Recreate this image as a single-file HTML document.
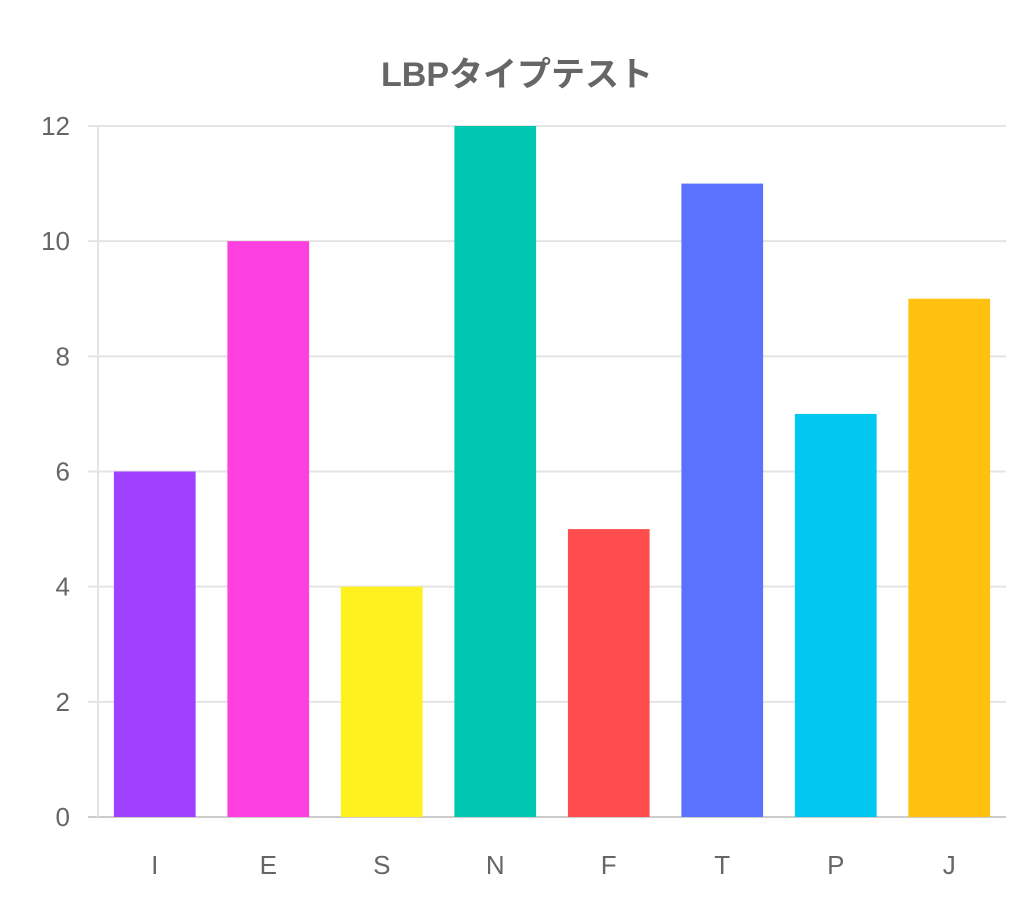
<!DOCTYPE html>
<html><head><meta charset="utf-8"><style>
body{margin:0;background:#fff;}
svg text{font-family:"Liberation Sans","Noto Sans CJK JP",sans-serif;fill:#666;}
</style></head><body>
<svg width="1034" height="918" viewBox="0 0 1034 918">
<text x="517" y="86" text-anchor="middle" font-size="34" font-weight="bold">LBPタイプテスト</text>
<g id="grid"></g><g id="bars"></g><g id="labels"></g>
</svg>
<script>
const categories=["I","E","S","N","F","T","P","J"];
const values=[6,10,4,12,5,11,7,9];
const colors=["#a040ff","#ff40e0","#fff020","#00c8b0","#ff4d4d","#5a72ff","#00c8f0","#ffc010"];
const yTicks=[0,2,4,6,8,10,12];
const NS="http://www.w3.org/2000/svg";
const x0=98,x1=1006,yb=817,yt=126,ymax=12;
const y=v=>yb-(v/ymax)*(yb-yt);
const band=(x1-x0)/categories.length;
const g=document.getElementById('grid'),b=document.getElementById('bars'),l=document.getElementById('labels');
function mk(tag,attrs,parent){const e=document.createElementNS(NS,tag);for(const k in attrs)e.setAttribute(k,attrs[k]);parent.appendChild(e);return e;}
yTicks.forEach(t=>{
  const ln=mk('line',{x1:88,x2:x1,y1:y(t),y2:y(t),stroke:t===0?'#ccc':'#e4e4e4','stroke-width':2},g);
  
  
  const tx=mk('text',{x:70,y:y(t)+9,'text-anchor':'end','font-size':26},l);
  tx.textContent=t;
  
  
});
const ax=mk('line',{x1:x0,x2:x0,y1:yt,y2:yb,stroke:'#e4e4e4','stroke-width':2},g);


categories.forEach((c,i)=>{
  const cx=x0+band*(i+0.5),w=band*0.72;
  const r=mk('rect',{x:cx-w/2,y:y(values[i]),width:w,height:yb-y(values[i]),fill:colors[i]},b);
  
  
  const tx=mk('text',{x:cx,y:874,'text-anchor':'middle','font-size':26},l);
  tx.textContent=c;
  
  
});
</script>
</body></html>
